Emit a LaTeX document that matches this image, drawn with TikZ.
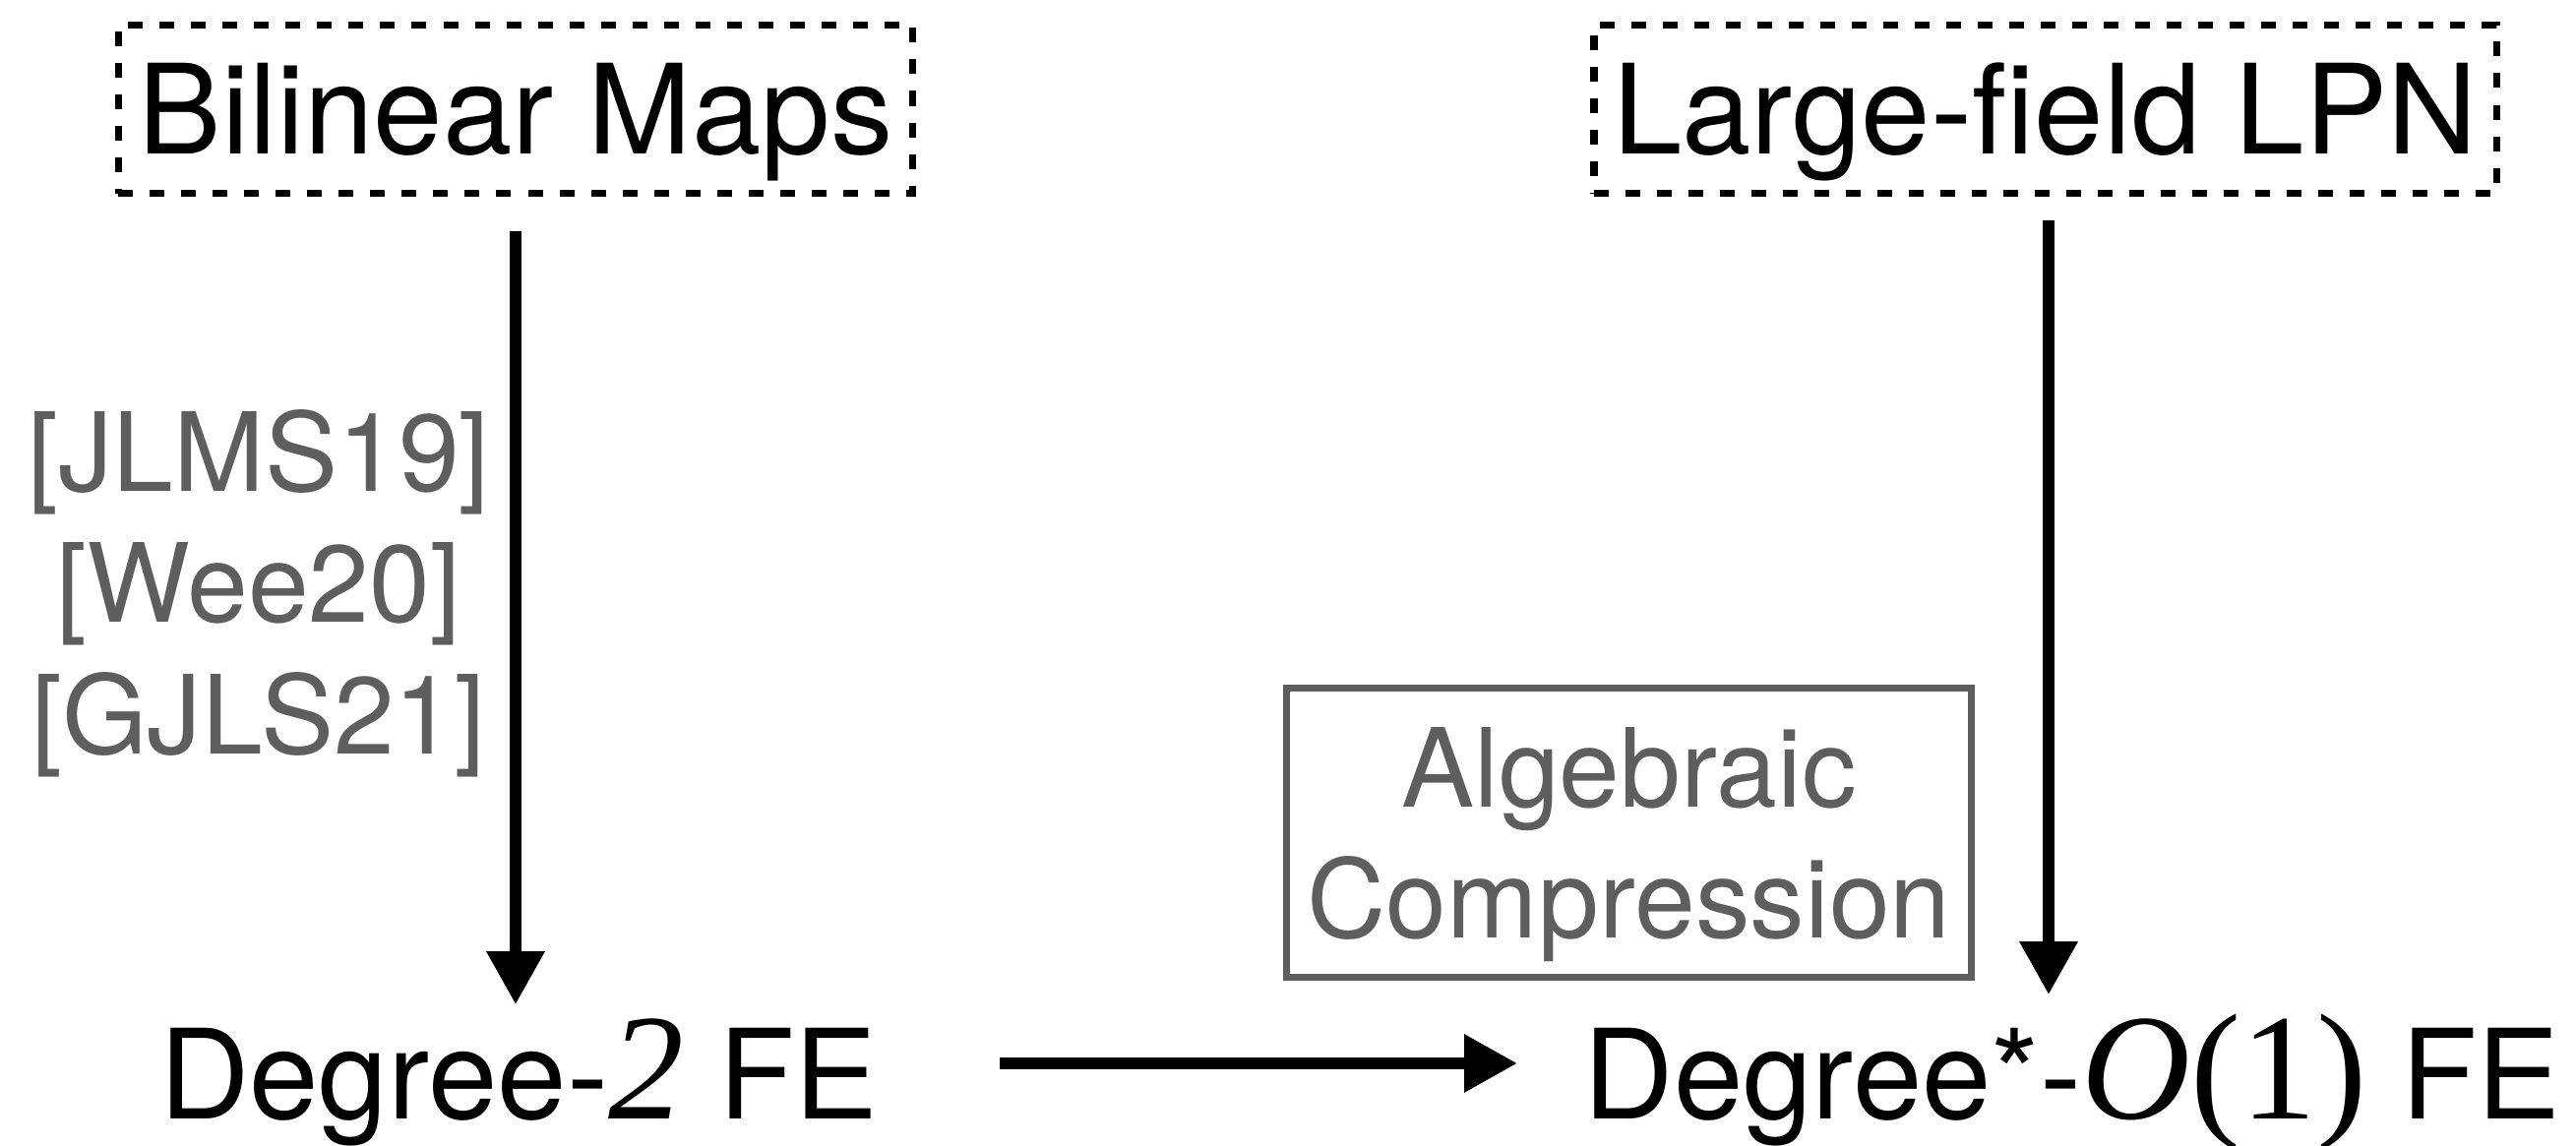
\documentclass[tikz,border=0pt]{standalone}
\usepackage{fontspec}
\setmainfont[Ligatures=NoCommon]{TeX Gyre Heros}
\newfontfamily\mathserif{Liberation Serif}
\usetikzlibrary{arrows.meta}
\definecolor{refgray}{HTML}{5E5E5E}
\tikzset{
  bigtext/.style={font=\fontsize{36}{43}\selectfont, inner sep=0pt, text=black},
  graytext/.style={font=\fontsize{31.6}{38}\selectfont, inner sep=0pt, text=refgray, anchor=base},
  dashbox/.style={draw=black, line width=0.075cm, dash pattern=on 0.15cm off 0.17cm,
    inner sep=0pt, minimum height=1.71cm, text height=0.9cm, text depth=0pt,
    font=\fontsize{36}{43}\selectfont},
  graybox/.style={draw=refgray, line width=0.07cm, inner sep=0pt},
  arr/.style={line width=0.125cm, -{Triangle[length=0.54cm,width=0.56cm]}},
}
\newcommand{\mi}[1]{{\fontsize{43.7}{50}\selectfont\mathserif\itshape #1}}
\newcommand{\mr}[1]{{\fontsize{43.7}{50}\selectfont\mathserif #1}}
\begin{document}
\begin{tikzpicture}[x=0.01cm, y=-0.01cm]
\useasboundingbox (0,0) rectangle (2618,1165);
% top boxes
\node[dashbox, minimum width=8.07cm] (bm) at (524,111) {Bilinear Maps};
\node[dashbox, minimum width=9.17cm] (lpn) at (2078.5,111) {Large-field LPN};
% bottom texts
\node[bigtext, anchor=base, text height=1.14cm, text depth=0pt] (d2) at (527,1138) {Degree-\mi{2} FE};
\node[bigtext, anchor=base, text height=1.14cm, text depth=0pt] (d3) at (2106,1138) {Degree*-\mi{O}\mr{(1)} FE};
% citations
\node[graytext] (c1) at (263,500) {[JLMS19]};
\node[graytext] (c2) at (263,633) {[Wee20]};
\node[graytext] (c3) at (263,767) {[GJLS21]};
% algebraic compression box
\node[graybox, minimum width=6.96cm, minimum height=2.94cm] (ac) at (1655.5,846.5) {};
\node[graytext] (ac1) at (1655.5,821) {Algebraic};
\node[graytext] (ac2) at (1655.5,954) {Compression};
% arrows
\draw[arr] ([yshift=-0.35cm]bm.south) -- ([yshift=0.02cm]bm.south |- d2.north);
\draw[arr] ([xshift=0.035cm,yshift=-0.24cm]lpn.south) -- ([xshift=0.035cm,yshift=0.12cm]lpn.south |- d3.north);
\draw[arr] ([xshift=1.23cm]d2.east) -- ([xshift=-0.67cm]d3.west);
\end{tikzpicture}
\end{document}
